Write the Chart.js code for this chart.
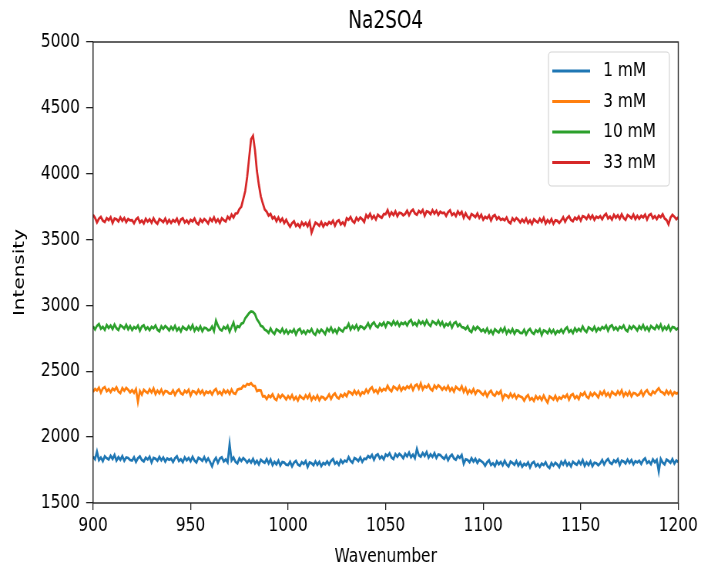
<!DOCTYPE html>
<html>
<head>
<meta charset="utf-8">
<script src="https://cdn.jsdelivr.net/npm/chart.js@4.4.0/dist/chart.umd.min.js"></script>
<style>
  html, body { margin: 0; padding: 0; background: #fff; overflow: hidden; }
  /* the reference figure is squeezed horizontally, so draw wide and squeeze */
  #wrap { width: 910px; height: 569px; transform: scaleX(0.7703); transform-origin: 0 0; }
</style>
</head>
<body>
<div id="wrap"><canvas id="chart" width="910" height="569"></canvas></div>
<script>
// wavenumber grid: 900 .. 1200, one value per wavenumber
const wnStart = 900;
const wnStep = 1;

const seriesLabels = ["1 mM", "3 mM", "10 mM", "33 mM"];
const seriesColors = ["#1f77b4", "#ff7f0e", "#2ca02c", "#d62728"];

const xTicks = [900, 950, 1000, 1050, 1100, 1150, 1200];
const yTicks = [1500, 2000, 2500, 3000, 3500, 4000, 4500, 5000];

// one row = 20 wavenumbers
const oneMM = [
    1852, 1832, 1890, 1825, 1845, 1818, 1854, 1840, 1830, 1858, 1835, 1865, 1822, 1848, 1828, 1856, 1820, 1846, 1842, 1826,
    1822, 1847, 1812, 1840, 1854, 1826, 1816, 1844, 1830, 1852, 1808, 1842, 1836, 1820, 1850, 1824, 1846, 1814, 1838, 1828,
    1836, 1812, 1840, 1854, 1818, 1832, 1810, 1846, 1824, 1842, 1816, 1850, 1822, 1808, 1844, 1834, 1820, 1848, 1814, 1838,
    1811, 1778, 1821, 1843, 1805, 1837, 1847, 1815, 1831, 1809, 1948, 1823, 1845, 1813, 1801, 1839, 1819, 1841, 1827, 1807,
    1827, 1807, 1835, 1800, 1820, 1793, 1829, 1815, 1805, 1833, 1800, 1830, 1787, 1813, 1793, 1821, 1785, 1811, 1807, 1791,
    1788, 1813, 1778, 1806, 1820, 1792, 1782, 1810, 1796, 1818, 1774, 1808, 1802, 1786, 1816, 1790, 1812, 1780, 1804, 1794,
    1816, 1792, 1820, 1834, 1798, 1812, 1790, 1826, 1804, 1822, 1814, 1848, 1820, 1806, 1842, 1832, 1818, 1846, 1812, 1836,
    1834, 1856, 1844, 1866, 1828, 1860, 1870, 1838, 1854, 1832, 1868, 1856, 1878, 1846, 1834, 1872, 1852, 1874, 1860, 1840,
    1874, 1854, 1882, 1847, 1867, 1840, 1910, 1862, 1852, 1880, 1857, 1887, 1844, 1870, 1850, 1878, 1842, 1868, 1864, 1848,
    1835, 1860, 1825, 1853, 1867, 1839, 1829, 1857, 1843, 1865, 1798, 1832, 1826, 1810, 1840, 1814, 1836, 1804, 1828, 1818,
    1806, 1782, 1810, 1824, 1788, 1802, 1780, 1816, 1794, 1812, 1786, 1820, 1792, 1778, 1814, 1804, 1790, 1818, 1784, 1808,
    1776, 1798, 1786, 1808, 1770, 1802, 1812, 1780, 1796, 1774, 1800, 1788, 1810, 1778, 1766, 1804, 1784, 1806, 1792, 1772,
    1812, 1792, 1820, 1785, 1805, 1778, 1814, 1800, 1790, 1818, 1795, 1825, 1782, 1808, 1788, 1816, 1780, 1806, 1802, 1786,
    1802, 1827, 1792, 1820, 1834, 1806, 1796, 1824, 1810, 1832, 1788, 1822, 1816, 1800, 1830, 1804, 1826, 1794, 1818, 1808,
    1821, 1797, 1825, 1839, 1803, 1817, 1795, 1831, 1809, 1827, 1738, 1835, 1807, 1793, 1829, 1819, 1805, 1833, 1799, 1823,
    1812
];

const threeMM = [
    2344, 2366, 2354, 2376, 2338, 2370, 2380, 2348, 2364, 2342, 2368, 2356, 2378, 2346, 2334, 2372, 2352, 2374, 2360, 2340,
    2357, 2337, 2365, 2268, 2350, 2323, 2359, 2345, 2335, 2363, 2340, 2370, 2327, 2353, 2333, 2361, 2325, 2351, 2347, 2331,
    2330, 2355, 2320, 2348, 2362, 2334, 2324, 2352, 2338, 2360, 2316, 2350, 2344, 2328, 2358, 2332, 2354, 2322, 2346, 2336,
    2348, 2324, 2352, 2366, 2330, 2344, 2322, 2358, 2336, 2354, 2328, 2362, 2334, 2328, 2360, 2366, 2368, 2390, 2384, 2404,
    2398, 2410, 2390, 2388, 2350, 2357, 2354, 2310, 2311, 2289, 2315, 2303, 2325, 2293, 2281, 2319, 2299, 2321, 2307, 2287,
    2312, 2292, 2320, 2285, 2305, 2278, 2314, 2300, 2290, 2318, 2295, 2325, 2282, 2308, 2288, 2316, 2280, 2306, 2302, 2286,
    2300, 2325, 2290, 2318, 2332, 2304, 2294, 2322, 2308, 2330, 2311, 2345, 2339, 2323, 2353, 2327, 2349, 2317, 2341, 2331,
    2361, 2337, 2365, 2379, 2343, 2357, 2335, 2371, 2349, 2367, 2356, 2390, 2362, 2348, 2384, 2374, 2360, 2388, 2354, 2378,
    2364, 2386, 2374, 2396, 2358, 2390, 2400, 2368, 2408, 2362, 2388, 2376, 2398, 2366, 2354, 2392, 2372, 2394, 2380, 2360,
    2380, 2360, 2388, 2353, 2373, 2346, 2382, 2368, 2358, 2386, 2343, 2373, 2330, 2356, 2336, 2364, 2328, 2354, 2350, 2334,
    2320, 2345, 2310, 2338, 2352, 2324, 2314, 2342, 2328, 2350, 2288, 2322, 2316, 2300, 2330, 2304, 2326, 2294, 2318, 2308,
    2301, 2277, 2305, 2319, 2283, 2297, 2275, 2311, 2289, 2307, 2281, 2315, 2287, 2262, 2309, 2299, 2285, 2313, 2279, 2303,
    2291, 2313, 2301, 2323, 2285, 2317, 2327, 2295, 2311, 2289, 2330, 2318, 2340, 2308, 2296, 2334, 2314, 2336, 2322, 2302,
    2342, 2322, 2350, 2315, 2335, 2308, 2344, 2330, 2320, 2348, 2325, 2355, 2312, 2338, 2318, 2346, 2310, 2336, 2332, 2316,
    2325, 2350, 2315, 2343, 2357, 2329, 2319, 2347, 2333, 2355, 2372, 2345, 2339, 2323, 2353, 2327, 2349, 2317, 2341, 2331,
    2336
];

const tenMM = [
    2841, 2817, 2845, 2859, 2823, 2837, 2815, 2851, 2829, 2847, 2821, 2855, 2827, 2813, 2849, 2839, 2825, 2853, 2819, 2843,
    2814, 2836, 2824, 2846, 2808, 2840, 2850, 2818, 2834, 2812, 2838, 2826, 2848, 2816, 2804, 2842, 2822, 2844, 2830, 2810,
    2837, 2817, 2845, 2810, 2830, 2803, 2839, 2825, 2815, 2843, 2820, 2850, 2807, 2833, 2813, 2841, 2805, 2831, 2827, 2811,
    2815, 2840, 2805, 2885, 2847, 2819, 2809, 2837, 2823, 2845, 2801, 2835, 2870, 2813, 2843, 2836, 2862, 2868, 2903, 2922,
    2942, 2955, 2950, 2934, 2895, 2874, 2845, 2838, 2816, 2808, 2791, 2825, 2797, 2783, 2819, 2809, 2795, 2823, 2789, 2813,
    2786, 2808, 2796, 2818, 2780, 2812, 2822, 2790, 2806, 2784, 2810, 2798, 2820, 2788, 2776, 2814, 2794, 2816, 2802, 2782,
    2824, 2804, 2832, 2797, 2817, 2790, 2826, 2812, 2802, 2830, 2830, 2860, 2817, 2843, 2823, 2851, 2815, 2841, 2837, 2821,
    2840, 2865, 2830, 2858, 2872, 2844, 2834, 2862, 2848, 2870, 2838, 2872, 2866, 2850, 2880, 2854, 2876, 2844, 2868, 2858,
    2872, 2848, 2876, 2890, 2854, 2868, 2846, 2882, 2860, 2878, 2852, 2886, 2858, 2844, 2880, 2870, 2856, 2884, 2850, 2874,
    2838, 2860, 2848, 2870, 2832, 2864, 2874, 2842, 2858, 2836, 2832, 2820, 2842, 2810, 2798, 2836, 2816, 2838, 2824, 2804,
    2817, 2797, 2825, 2790, 2810, 2783, 2819, 2805, 2795, 2823, 2800, 2830, 2787, 2813, 2793, 2821, 2785, 2811, 2807, 2791,
    2790, 2815, 2780, 2808, 2822, 2794, 2784, 2812, 2798, 2820, 2776, 2810, 2804, 2788, 2818, 2792, 2814, 2782, 2806, 2796,
    2816, 2792, 2820, 2834, 2798, 2812, 2790, 2826, 2804, 2822, 2806, 2840, 2812, 2798, 2834, 2824, 2810, 2838, 2804, 2828,
    2814, 2836, 2824, 2846, 2808, 2840, 2850, 2818, 2834, 2812, 2838, 2826, 2848, 2816, 2804, 2842, 2822, 2844, 2830, 2810,
    2842, 2822, 2850, 2815, 2835, 2808, 2844, 2830, 2820, 2848, 2825, 2855, 2812, 2838, 2818, 2846, 2810, 2836, 2832, 2816,
    2828
];

const thirtyThreeMM = [
    3688, 3665, 3630, 3658, 3672, 3644, 3634, 3662, 3648, 3670, 3626, 3660, 3654, 3638, 3668, 3642, 3664, 3632, 3656, 3646,
    3648, 3624, 3652, 3666, 3630, 3644, 3622, 3658, 3636, 3654, 3628, 3662, 3634, 3620, 3656, 3646, 3632, 3660, 3626, 3650,
    3626, 3648, 3636, 3658, 3620, 3652, 3662, 3630, 3646, 3624, 3650, 3638, 3660, 3628, 3616, 3654, 3634, 3656, 3642, 3622,
    3660, 3640, 3668, 3633, 3653, 3626, 3662, 3648, 3638, 3673, 3655, 3690, 3668, 3698, 3700, 3732, 3750, 3808, 3868, 3975,
    4120, 4262, 4288, 4180, 4020, 3915, 3828, 3775, 3728, 3712, 3682, 3695, 3660, 3672, 3640, 3668, 3638, 3660, 3626, 3650,
    3621, 3597, 3625, 3639, 3603, 3617, 3595, 3631, 3609, 3627, 3601, 3635, 3552, 3593, 3629, 3619, 3605, 3633, 3599, 3623,
    3611, 3633, 3621, 3643, 3605, 3637, 3647, 3615, 3631, 3609, 3662, 3650, 3672, 3640, 3628, 3666, 3646, 3668, 3654, 3634,
    3687, 3667, 3695, 3660, 3680, 3653, 3689, 3675, 3665, 3693, 3693, 3723, 3680, 3706, 3686, 3714, 3678, 3704, 3700, 3684,
    3695, 3720, 3685, 3713, 3727, 3699, 3689, 3717, 3703, 3725, 3681, 3715, 3709, 3693, 3723, 3697, 3719, 3687, 3711, 3701,
    3704, 3680, 3708, 3722, 3686, 3700, 3678, 3714, 3692, 3710, 3666, 3700, 3672, 3658, 3694, 3684, 3670, 3698, 3664, 3688,
    3651, 3673, 3661, 3683, 3645, 3677, 3687, 3655, 3671, 3649, 3658, 3646, 3668, 3636, 3624, 3662, 3642, 3664, 3650, 3630,
    3652, 3632, 3660, 3625, 3645, 3618, 3654, 3640, 3630, 3658, 3635, 3665, 3622, 3648, 3628, 3656, 3620, 3646, 3642, 3626,
    3645, 3670, 3635, 3663, 3677, 3649, 3639, 3667, 3653, 3675, 3644, 3678, 3672, 3656, 3686, 3660, 3682, 3650, 3674, 3664,
    3678, 3654, 3682, 3696, 3660, 3674, 3652, 3688, 3666, 3684, 3658, 3692, 3664, 3650, 3686, 3676, 3662, 3690, 3656, 3680,
    3658, 3680, 3668, 3690, 3652, 3684, 3694, 3662, 3678, 3656, 3682, 3670, 3692, 3660, 3648, 3615, 3666, 3688, 3674, 3654,
    3668
];

const seriesValues = [oneMM, threeMM, tenMM, thirtyThreeMM];

const FONT = "'DejaVu Sans', sans-serif";
const INK = "#222";

// matplotlib-like frame around the axes
const frameBox = {
    id: "frameBox",
    afterDatasetsDraw(chart) {
        const { ctx, chartArea: a } = chart;
        ctx.save();
        ctx.strokeStyle = INK;
        ctx.lineWidth = 1.4;
        ctx.strokeRect(a.left, a.top, a.right - a.left, a.bottom - a.top);
        ctx.restore();
    }
};

// legend in the upper right corner, inside the axes
const innerLegend = {
    id: "innerLegend",
    afterDraw(chart) {
        const { ctx } = chart;
        const x = 712, y = 52, w = 157, h = 134, r = 4;
        ctx.save();
        ctx.beginPath();
        ctx.roundRect(x, y, w, h, r);
        ctx.fillStyle = "rgba(255,255,255,0.8)";
        ctx.fill();
        ctx.strokeStyle = "#d4d4d4";
        ctx.lineWidth = 1.2;
        ctx.stroke();
        ctx.font = "20px " + FONT;
        ctx.textBaseline = "middle";
        chart.data.datasets.forEach((ds, k) => {
            const ry = 71 + k * 30.5;
            ctx.beginPath();
            ctx.moveTo(717, ry);
            ctx.lineTo(766, ry);
            ctx.strokeStyle = ds.borderColor;
            ctx.lineWidth = 2.8;
            ctx.stroke();
            ctx.fillStyle = "#000";
            ctx.fillText(ds.label, 783, ry);
        });
        ctx.restore();
    }
};

new Chart(document.getElementById("chart"), {
    type: "line",
    data: {
        datasets: seriesValues.map((values, k) => ({
            label: seriesLabels[k],
            data: values.map((v, i) => ({ x: wnStart + i * wnStep, y: v })),
            borderColor: seriesColors[k],
            backgroundColor: seriesColors[k],
            borderWidth: 2.7,
            pointRadius: 0,
            tension: 0
        }))
    },
    options: {
        responsive: false,
        animation: false,
        devicePixelRatio: 1,
        layout: {
            padding: { left: 0, right: 29.5, top: 0, bottom: 0 }
        },
        plugins: {
            legend: { display: false },
            tooltip: { enabled: false }
        },
        scales: {
            x: {
                type: "linear",
                min: 900,
                max: 1200,
                afterBuildTicks: (scale) => {
                    scale.ticks = xTicks.map((v) => ({ value: v }));
                },
                afterFit: (scale) => {
                    scale.height = 66;
                },
                ticks: {
                    color: "#000",
                    font: { family: FONT, size: 20 },
                    padding: 4,
                    maxRotation: 0,
                    autoSkip: false,
                    callback: (value) => String(value)
                },
                grid: {
                    drawOnChartArea: false,
                    drawTicks: true,
                    tickLength: 7,
                    color: INK,
                    lineWidth: 1.3
                },
                border: { display: false },
                title: {
                    display: true,
                    text: "Wavenumber",
                    color: "#000",
                    font: { family: FONT, size: 20 },
                    padding: { top: 0, bottom: 0 }
                }
            },
            y: {
                type: "linear",
                min: 1500,
                max: 5000,
                afterBuildTicks: (scale) => {
                    scale.ticks = yTicks.map((v) => ({ value: v }));
                },
                afterFit: (scale) => {
                    scale.width = 120.8;
                },
                ticks: {
                    color: "#000",
                    font: { family: FONT, size: 20 },
                    padding: 8,
                    callback: (value) => String(value)
                },
                grid: {
                    drawOnChartArea: false,
                    drawTicks: true,
                    tickLength: 9,
                    color: INK,
                    lineWidth: 1.3
                },
                border: { display: false },
                title: {
                    display: true,
                    text: "Intensity",
                    color: "#000",
                    font: { family: FONT, size: 20 },
                    padding: { top: 14, bottom: 0 }
                }
            },
            // top axis only carries the chart title, centred over the axes
            xTop: {
                type: "linear",
                position: "top",
                min: 900,
                max: 1200,
                afterFit: (scale) => {
                    scale.height = 42;
                },
                ticks: { display: false },
                grid: { display: false },
                border: { display: false },
                title: {
                    display: true,
                    text: "Na2SO4",
                    color: "#000",
                    font: { family: FONT, size: 24 },
                    padding: { top: 7, bottom: 0 }
                }
            }
        }
    },
    plugins: [frameBox, innerLegend]
});
</script>
</body>
</html>
